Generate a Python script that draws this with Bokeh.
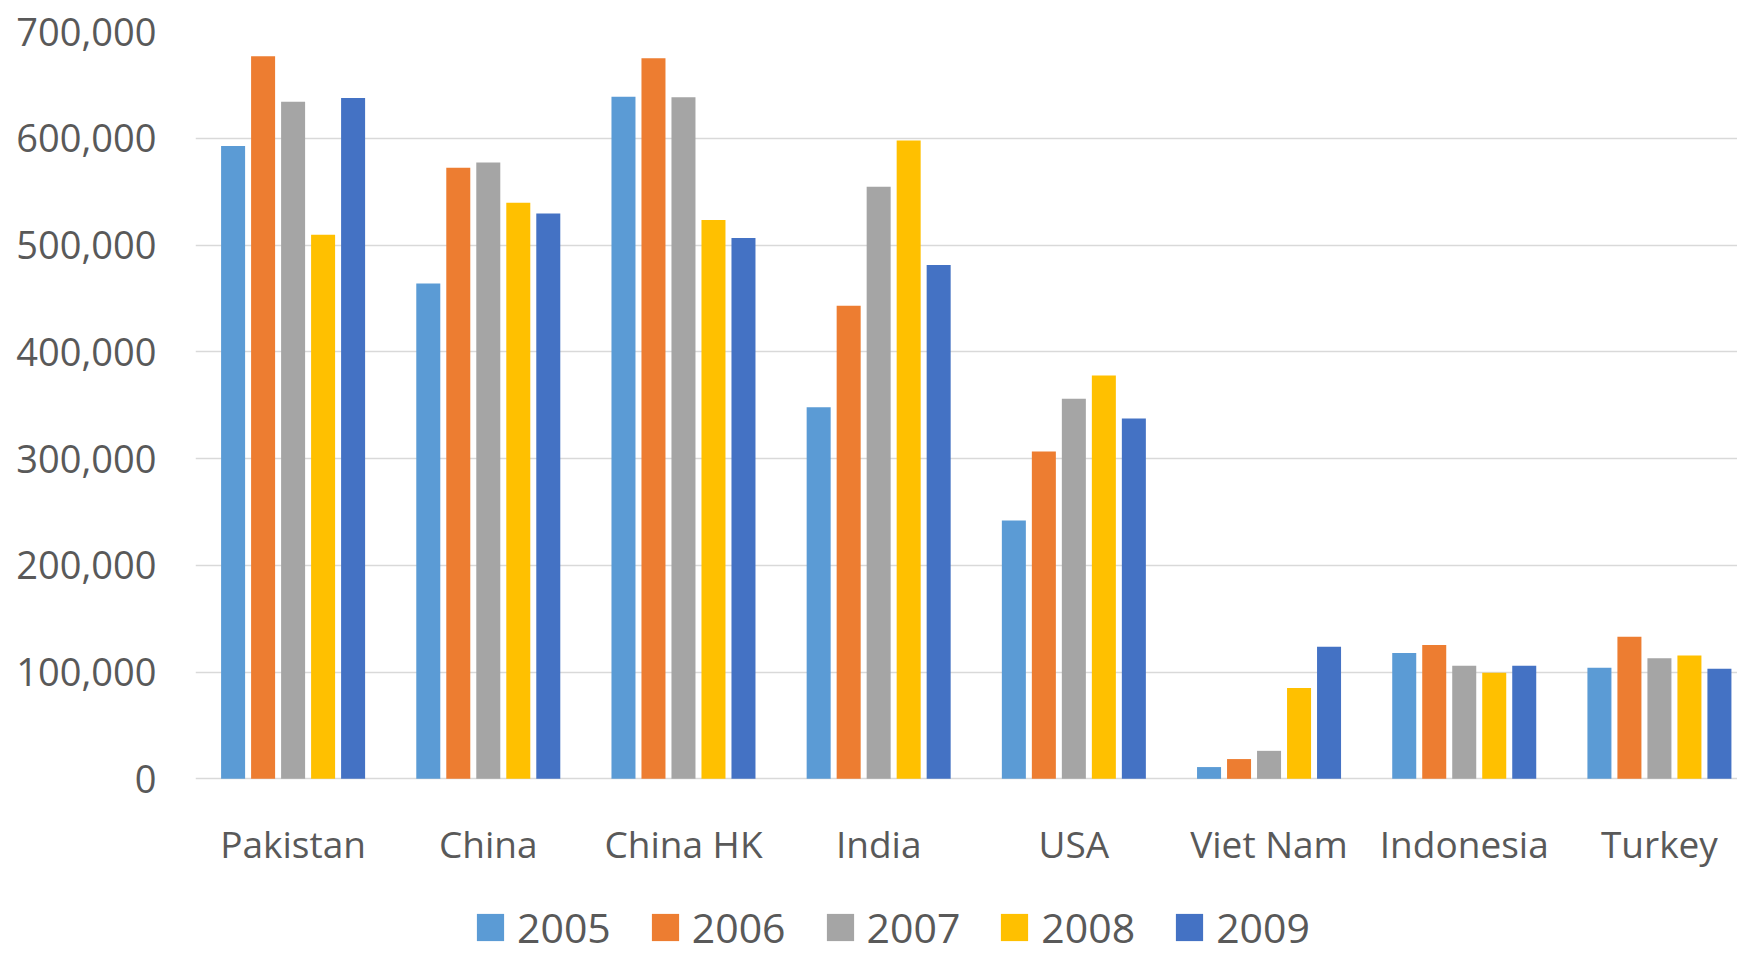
from bokeh.plotting import figure
from bokeh.models import (ColumnDataSource, Range1d, FixedTicker, NumeralTickFormatter,
                          Legend, LegendItem)
from bokeh.core.properties import value
from bokeh.transform import dodge
from bokeh.embed import file_html
from bokeh.resources import INLINE

# Annual values per country
countries = ["Pakistan", "China", "China HK", "India", "USA", "Viet Nam", "Indonesia", "Turkey"]
years = ["2005", "2006", "2007", "2008", "2009"]
v2005 = [592700, 464000, 638800, 348000, 242000, 11000, 117800, 104000]
v2006 = [676900, 572400, 675000, 443200, 306600, 18500, 125300, 133000]
v2007 = [634200, 577400, 638500, 554600, 355900, 26200, 106000, 113000]
v2008 = [509700, 539600, 523400, 598000, 377700, 85000, 99400, 115600]
v2009 = [637600, 529600, 506600, 481300, 337400, 123700, 106000, 103000]
y_ticks = [0, 100000, 200000, 300000, 400000, 500000, 600000, 700000]

colors = ["#5B9BD5", "#ED7D31", "#A5A5A5", "#FFC000", "#4472C4"]
series = [v2005, v2006, v2007, v2008, v2009]

FONT = "Open Sans"
TEXT = "#595959"
GRID = "#D9D9D9"

data = dict(idx=list(range(len(countries))), country=countries)
for yr, vals in zip(years, series):
    data[yr] = vals
source = ColumnDataSource(data)

# the frame reaches the bottom of the canvas so that category labels and
# the legend can live inside it, below the zero line
p = figure(width=1737, height=955, output_backend="svg", toolbar_location=None,
           x_range=Range1d(-0.5, 7.4), y_range=Range1d(-165500, 700000),
           min_border_left=195, min_border_right=0, min_border_top=31,
           min_border_bottom=0, outline_line_color=None)

pitch = 0.1537
bar_w = 0.123
items = []
for j, (yr, col) in enumerate(zip(years, colors)):
    r = p.vbar(x=dodge("idx", (j - 2) * pitch, range=p.x_range), top=yr, bottom=0,
               width=bar_w, source=source, fill_color=col, line_color=None)
    items.append(LegendItem(label=yr, renderers=[r]))

# horizontal gridlines (the one at zero doubles as the category axis line)
p.xgrid.grid_line_color = None
p.ygrid.ticker = FixedTicker(ticks=y_ticks)
p.ygrid.grid_line_color = GRID
p.ygrid.grid_line_width = 1.5

# y axis
p.yaxis.ticker = FixedTicker(ticks=y_ticks)
p.yaxis.formatter = NumeralTickFormatter(format="0,0")
p.yaxis.axis_line_color = None
p.yaxis.major_tick_line_color = None
p.yaxis.minor_tick_line_color = None
p.yaxis.major_tick_out = 0
p.yaxis.minor_tick_out = 0
p.yaxis.major_label_standoff = 39
p.yaxis.major_label_text_font = FONT
p.yaxis.major_label_text_font_size = "38px"
p.yaxis.major_label_text_color = TEXT

# category names under each group
p.xaxis.visible = False
p.text(x="idx", y=0, text="country", source=source, y_offset=65,
       text_align="center", text_baseline="alphabetic",
       text_font=value(FONT), text_font_size=value("37px"), text_color=TEXT)

legend = Legend(items=items, orientation="horizontal", location=(278, 0),
                glyph_width=34, glyph_height=34, label_standoff=10, spacing=37,
                padding=0, margin=0, border_line_color=None, background_fill_alpha=0,
                label_text_font=FONT, label_text_font_size="41px",
                label_text_color=TEXT)
p.add_layout(legend, "center")

open("out.html", "w").write(file_html(p, INLINE))
